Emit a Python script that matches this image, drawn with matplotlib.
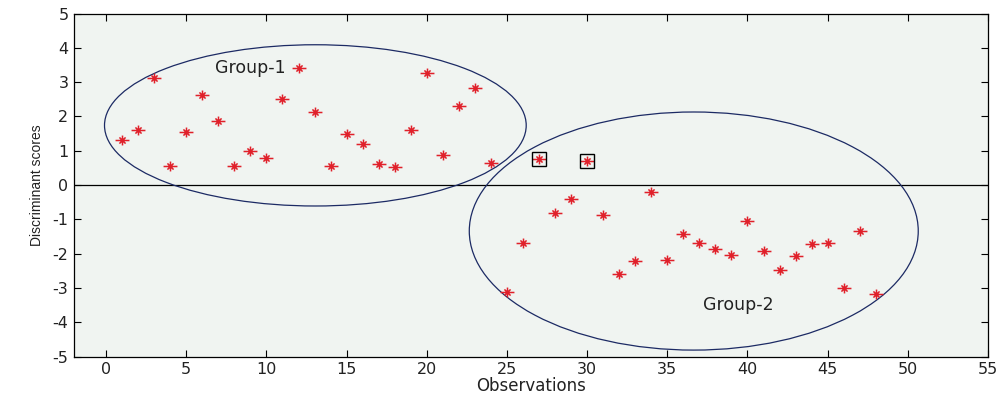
import numpy as np
import matplotlib
matplotlib.use('Agg')
import matplotlib.pyplot as plt
from matplotlib.patches import Ellipse
from matplotlib.path import Path

plt.rcParams['font.family'] = ['DejaVu Sans']
plt.rcParams['axes.unicode_minus'] = False

# discriminant scores per observation
obs = list(range(1, 49))
scores = [1.31, 1.60, 3.13, 0.57, 1.54, 2.63, 1.88, 0.57, 1.00, 0.78,
          2.51, 3.40, 2.12, 0.57, 1.49, 1.20, 0.60, 0.54, 1.60, 3.26,
          0.87, 2.30, 2.82, 0.63,
          -3.11, -1.69, 0.75, -0.82, -0.42, 0.70, -0.88, -2.60, -2.20, -0.21,
          -2.17, -1.42, -1.69, -1.875, -2.05, -1.06, -1.92, -2.47, -2.06, -1.72,
          -1.70, -2.99, -1.33, -3.17]

# misclassified observations (boxed)
boxed = [27, 30]

# group ellipses: centre x, centre y, width, height
groups = ['Group-1', 'Group-2']
ell_cx = [13.05, 36.65]
ell_cy = [1.74, -1.34]
ell_w = [26.3, 28.0]
ell_h = [4.7, 6.94]
label_x = [9.0, 39.4]
label_y = [3.42, -3.5]

# asterisk marker, a bit wider than tall like the original
d = 0.62
star = Path([(-1.4, 0), (1.4, 0), (0, -1), (0, 1),
             (-d, -d), (d, d), (-d, d), (d, -d)],
            [Path.MOVETO, Path.LINETO] * 4)

fig = plt.figure(figsize=(10.06, 3.98), dpi=100)
ax = fig.add_axes([0.0736, 0.104, 0.9085, 0.862])
ax.set_facecolor('#f0f4f1')

ax.axhline(0, color='black', lw=0.9, zorder=1)

for i in range(len(groups)):
    e = Ellipse((ell_cx[i], ell_cy[i]), ell_w[i], ell_h[i], fill=False,
                edgecolor='#1c2a64', lw=0.9, zorder=2)
    ax.add_patch(e)
    ax.text(label_x[i], label_y[i], groups[i], ha='center', va='center',
            fontsize=12.5, color='#222222')

ax.plot(obs, scores, linestyle='none', marker=star, markersize=10,
        markeredgecolor='#e0202a', markeredgewidth=1.1, zorder=4)

bx = [obs[obs.index(b)] for b in boxed]
by = [scores[obs.index(b)] for b in boxed]
ax.plot(bx, by, linestyle='none', marker='s', markersize=9.5,
        markerfacecolor='none', markeredgecolor='black', markeredgewidth=1.0,
        zorder=5)

ax.set_xlim(-2, 55)
ax.set_ylim(-5, 5)
ax.set_xticks(range(0, 56, 5))
ax.set_yticks(range(-5, 6))
ax.tick_params(direction='in', top=True, right=True, length=5, width=0.8,
               labelsize=11.5, pad=4, labelcolor='#222222')
for s in ax.spines.values():
    s.set_linewidth(0.9)

ax.set_xlabel('Observations', fontsize=12, labelpad=0, color='#222222')
ax.set_ylabel('Discriminant scores', fontsize=10, labelpad=6,
              family=['Liberation Sans', 'DejaVu Sans'], color='#222222')

fig.savefig('out.png', dpi=100)
